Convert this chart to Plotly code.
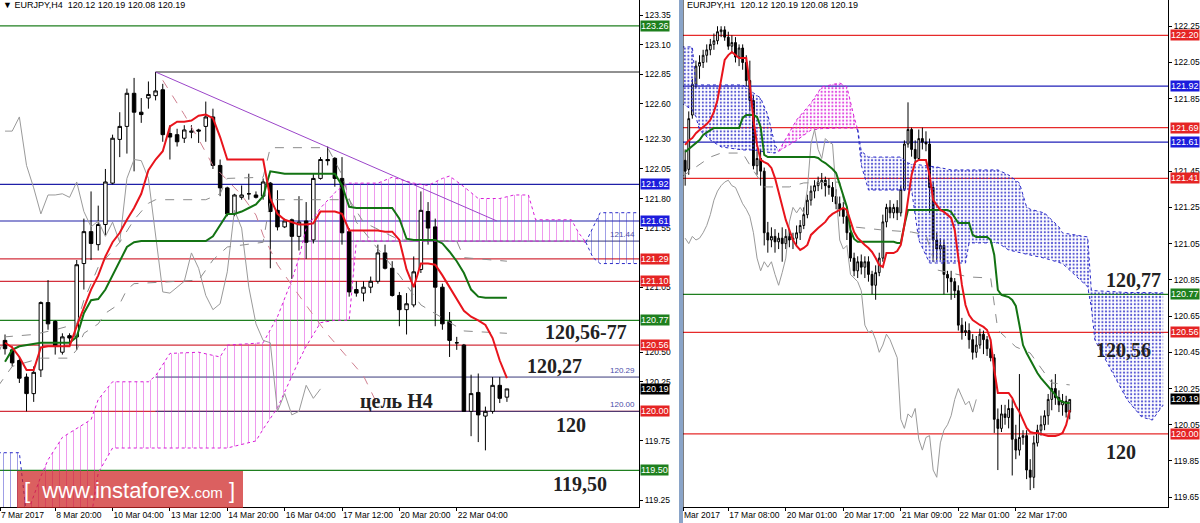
import plotly.graph_objects as go

W, H = 1200, 523
def px(x): return x / W
def py(y): return 1 - y / H

# ================= EURJPY H4 (left panel) =================
h4_bar = list(range(71))
h4_open = [120.60,120.52,120.43,120.29,120.15,120.35,120.92,120.76,120.50,120.64,
           120.63,121.25,121.52,121.41,121.58,121.93,122.30,122.41,122.69,122.53,
           122.65,122.67,122.72,122.35,122.34,122.31,122.36,122.38,122.41,122.49,
           122.08,121.89,121.67,121.81,121.84,121.83,121.82,121.93,121.70,121.56,
           121.62,121.48,121.61,121.45,121.97,122.13,122.14,121.97,121.52,121.03,
           121.00,121.05,121.10,121.34,121.21,120.98,120.86,120.90,121.20,121.69,
           121.56,121.05,120.76,120.58,120.56,120.00,120.16,119.96,120.00,120.22,120.12]
h4_high = [120.65,120.55,120.46,120.32,120.38,120.93,121.11,120.77,120.66,120.66,
           121.28,121.63,121.86,121.74,122.05,122.34,122.53,122.73,122.82,122.65,
           122.79,122.87,122.77,122.42,122.39,122.42,122.42,122.39,122.62,122.56,
           122.13,121.90,121.84,121.91,122.01,121.86,121.97,121.94,121.87,121.63,
           121.63,121.82,121.77,122.01,122.15,122.24,122.15,122.15,121.55,121.10,
           121.10,121.14,121.41,121.41,121.27,121.01,121.00,121.31,121.86,121.77,
           121.63,121.08,120.84,120.63,120.57,120.31,120.32,120.04,120.29,120.29,120.19]
h4_low = [120.48,120.38,120.24,120.00,120.08,120.29,120.69,120.48,120.48,120.56,
          120.52,121.03,121.28,121.36,121.49,121.92,122.15,122.18,122.03,122.44,
          122.56,122.63,122.28,122.13,122.24,122.27,122.31,122.27,122.28,122.05,
          121.82,121.65,121.65,121.79,121.79,121.80,121.79,121.21,121.53,121.55,
          121.12,121.36,121.29,121.42,121.96,122.08,121.90,121.41,120.97,120.97,
          120.93,121.00,121.08,121.20,120.97,120.72,120.65,120.88,121.17,121.41,
          120.72,120.69,120.46,120.52,120.00,119.79,119.74,119.67,119.98,120.07,120.08]
h4_close = [120.53,120.41,120.28,120.15,120.33,120.92,120.74,120.55,120.63,120.62,
            121.24,121.52,121.42,121.58,121.94,122.31,122.41,122.69,122.53,122.51,
            122.68,122.71,122.34,122.32,122.28,122.38,122.37,122.37,122.49,122.08,
            121.89,121.67,121.83,121.83,121.84,121.81,121.94,121.69,121.56,121.61,
            121.48,121.60,121.43,121.97,122.13,122.12,121.97,121.51,121.01,121.00,
            121.05,121.10,121.34,121.21,120.98,120.86,120.91,121.18,121.70,121.55,
            121.05,120.74,120.60,120.58,120.00,120.15,119.97,120.00,120.22,120.11,120.19]
h4_tenkan = [120.58,120.54,120.46,120.35,120.35,120.54,120.55,120.55,120.55,120.55,
             120.72,120.88,121.03,121.15,121.31,121.43,121.51,121.62,121.72,121.84,
             122.04,122.13,122.20,122.41,122.45,122.45,122.46,122.50,122.51,122.48,
             122.32,122.13,122.13,122.13,122.13,122.13,122.13,121.80,121.67,121.62,
             121.60,121.58,121.58,121.59,121.69,121.69,121.69,121.67,121.53,121.53,
             121.53,121.53,121.53,121.52,121.52,121.45,121.20,121.05,121.25,121.25,
             121.24,121.15,121.05,120.96,120.85,120.80,120.77,120.73,120.62,120.43,120.28]
h4_kijun = [120.42,120.52,120.55,120.56,120.57,120.58,120.58,120.58,120.58,120.58,
            120.63,120.83,120.94,120.95,121.03,121.15,121.28,121.39,121.43,121.44,
            121.44,121.44,121.44,121.44,121.44,121.44,121.44,121.44,121.44,121.48,
            121.58,121.67,121.67,121.69,121.72,121.75,121.82,122.03,122.02,122.01,
            122.01,122.01,122.01,122.01,122.01,122.01,122.01,121.91,121.73,121.72,
            121.72,121.72,121.72,121.72,121.72,121.63,121.46,121.45,121.45,121.45,
            121.45,121.42,121.35,121.27,121.17,121.03,120.97,120.96,120.96,120.96,120.96]

# cloud segments (bar, upper span, lower span)
h4_cloud_b1_bar = [-1, 2, 3]
h4_cloud_b1_top = [119.65, 119.65, 119.12]
h4_cloud_b1_bot = [119.00, 119.05, 119.12]
h4_cloud_m_bar = [3,5,6,8,12,13,15,20,21,23,27,30,31,35,36,38,40,41,42,44,
                  46,47,48,49,52,54,57,59,61,62,64,66,69,71,73,74,79,80,81]
h4_cloud_m_top = [119.12,119.45,119.59,119.78,119.93,120.10,120.25,120.25,120.30,120.49,
                  120.50,120.46,120.56,120.58,120.58,120.80,121.11,121.30,121.55,121.72,
                  121.85,121.90,121.93,121.93,121.93,121.98,121.93,121.91,121.97,121.99,
                  121.90,121.80,121.80,121.83,121.83,121.62,121.62,121.51,121.43]
h4_cloud_m_bot = [119.12,119.00,119.00,119.00,119.10,119.48,119.69,119.69,119.69,119.69,
                  119.69,119.69,119.69,119.75,119.85,120.03,120.30,120.43,120.55,120.75,
                  120.77,120.77,120.77,121.44,121.44,121.44,121.44,121.44,121.44,121.44,
                  121.44,121.44,121.44,121.44,121.44,121.44,121.44,121.44,121.43]
h4_cloud_b2_bar = [81, 82, 83, 89]
h4_cloud_b2_top = [121.43, 121.56, 121.68, 121.68]
h4_cloud_b2_bot = [121.43, 121.30, 121.25, 121.25]

h4_dash1_bar = [-1,1,5,9,10,11,13,14,16,17,18,27,29,31,36,37,48,50,55,63,64,70]
h4_dash1_val = [120.21,120.38,120.45,120.45,120.52,120.66,120.74,120.83,120.91,121.03,121.08,
                121.11,121.28,121.39,121.43,121.79,121.79,121.60,121.45,121.44,121.30,121.27]
h4_dash2_bar = [-1,0,4,7,10,11,13,16,18,20,21,28,30,31,36,37,45,47,49,55,58,62,64,70]
h4_dash2_val = [120.48,120.63,120.65,120.69,120.74,120.94,121.22,121.43,121.62,121.76,121.79,
                121.79,121.84,121.97,121.98,122.23,122.23,122.00,121.60,121.15,120.90,120.75,
                120.68,120.66]
h4_pink_bar = [22,25,27,29,33,35,36,38,41,45,50,52]
h4_pink_val = [122.80,122.51,122.30,122.08,121.83,121.66,121.49,121.24,120.98,120.65,120.30,120.05]

h4_trend_bar = [21, 68.6]
h4_trend_val = [122.87, 121.61]

h4_levels = [(123.26, "green"), (121.92, "blue"), (121.61, "blue"), (121.29, "red"),
             (121.10, "red"), (120.77, "green"), (120.56, "red"), (120.00, "red"),
             (119.50, "green")]
h4_marks = [(122.87, "", "#222222"), (121.44, "121.44", "#3a3a7a"),
            (120.29, "120.29", "#3a3a7a"), (120.00, "120.00", "#3a3a7a")]
h4_mark_start = [21, 28, 21, 21]
h4_ticks = [123.35,123.10,122.85,122.60,122.30,122.05,121.80,121.55,121.05,
            120.50,120.25,119.75,119.25]
h4_xtick_bar = [-0.7, 7, 15, 23, 31, 39, 47, 55, 63]
h4_xtick_txt = ["7 Mar 2017", "8 Mar 20:00", "10 Mar 04:00", "13 Mar 12:00", "14 Mar 20:00",
                "16 Mar 04:00", "17 Mar 12:00", "20 Mar 20:00", "22 Mar 04:00"]

# ================= EURJPY H1 (right panel) =================
h1_bar = list(range(-12, 96))
h1_open = [121.51,121.46,121.76,121.93,122.03,122.05,122.09,122.12,122.15,122.17,122.22,122.23,
           122.19,122.14,122.16,122.08,122.13,122.05,121.95,121.84,121.48,121.52,121.45,121.11,
           121.07,121.09,121.06,121.08,121.05,121.09,121.07,121.08,121.11,121.15,121.21,121.29,
           121.34,121.37,121.39,121.40,121.37,121.36,121.31,121.27,121.24,121.20,121.11,120.97,
           120.90,120.95,120.92,120.95,120.88,120.82,120.89,120.97,121.17,121.25,121.22,121.25,
           121.22,121.35,121.60,121.68,121.57,121.52,121.63,121.61,121.60,121.36,121.07,121.02,
           121.04,120.88,120.86,120.84,120.79,120.60,120.56,120.57,120.52,120.45,120.49,120.55,
           120.52,120.47,120.42,120.08,120.03,120.11,120.09,120.14,119.97,119.91,119.98,119.99,
           119.80,119.76,119.95,120.02,120.05,120.10,120.19,120.25,120.20,120.16,120.18,120.12]
h1_high = [121.57,121.78,121.96,122.06,122.09,122.12,122.15,122.18,122.21,122.25,122.25,122.25,
           122.22,122.20,122.19,122.15,122.15,122.09,122.06,121.87,121.56,121.57,121.47,121.17,
           121.14,121.13,121.11,121.14,121.13,121.13,121.11,121.15,121.18,121.25,121.32,121.37,
           121.40,121.42,121.44,121.42,121.41,121.39,121.35,121.31,121.28,121.24,121.15,121.00,
           120.98,120.99,120.98,120.98,120.90,120.93,121.00,121.21,121.27,121.29,121.27,121.29,
           121.37,121.62,121.83,121.69,121.62,121.68,121.69,121.67,121.63,121.39,121.11,121.08,
           121.07,120.90,120.90,120.86,120.82,120.64,120.62,120.61,120.55,120.54,120.58,120.57,
           120.54,120.50,120.44,120.14,120.16,120.16,120.19,120.19,120.05,120.33,120.02,120.02,
           119.86,119.99,120.05,120.10,120.13,120.22,120.30,120.33,120.24,120.22,120.21,120.19]
h1_low = [121.37,121.43,121.74,121.91,121.96,122.02,122.05,122.09,122.12,122.15,122.19,122.17,
          122.12,122.10,122.05,122.03,122.01,121.92,121.78,121.46,121.43,121.37,121.04,121.00,
          121.03,121.00,121.02,120.95,121.02,121.03,121.02,121.04,121.07,121.13,121.19,121.26,
          121.30,121.34,121.35,121.31,121.32,121.28,121.24,121.20,121.16,121.07,120.95,120.87,
          120.86,120.88,120.86,120.84,120.77,120.74,120.87,120.95,121.14,121.19,121.19,121.18,
          121.20,121.34,121.58,121.53,121.50,121.51,121.57,121.56,121.22,120.95,120.96,120.96,
          120.77,120.78,120.74,120.75,120.57,120.52,120.54,120.47,120.41,120.42,120.47,120.44,
          120.43,120.40,120.005,119.80,120.01,120.05,120.03,119.77,119.86,119.88,119.94,119.75,
          119.69,119.70,119.93,119.99,120.02,120.05,120.13,120.16,120.12,120.10,120.09,120.08]
h1_close = [121.45,121.74,121.93,122.03,122.05,122.09,122.12,122.15,122.17,122.22,122.23,122.19,
            122.14,122.16,122.08,122.13,122.05,121.95,121.84,121.48,121.52,121.45,121.11,121.07,
            121.09,121.06,121.08,121.05,121.09,121.07,121.08,121.11,121.15,121.21,121.29,121.34,
            121.37,121.39,121.40,121.37,121.36,121.31,121.27,121.24,121.20,121.11,120.97,120.90,
            120.95,120.92,120.95,120.88,120.82,120.89,120.97,121.17,121.25,121.22,121.25,121.22,
            121.35,121.60,121.68,121.57,121.52,121.63,121.61,121.60,121.36,121.07,121.02,121.04,
            120.88,120.86,120.84,120.79,120.60,120.56,120.57,120.52,120.45,120.49,120.55,120.52,
            120.47,120.42,120.08,120.03,120.11,120.09,120.14,119.97,119.91,119.98,119.99,119.80,
            119.76,119.95,120.02,120.05,120.10,120.19,120.25,120.20,120.16,120.18,120.12,120.19]
h1_tenkan = [121.595,121.62,121.633,121.66,121.677,121.694,121.71,121.733,121.777,121.843,121.953,122.064,
             122.091,122.108,122.091,122.075,122.075,122.075,121.926,121.733,121.595,121.512,121.50,121.49,
             121.468,121.412,121.335,121.263,121.181,121.125,121.07,121.037,121.015,121.026,121.043,121.098,
             121.12,121.136,121.153,121.17,121.197,121.214,121.225,121.236,121.247,121.236,121.17,121.114,
             121.081,121.059,121.043,121.026,121.004,120.971,120.932,120.921,120.998,120.998,120.998,121.009,
             121.043,121.153,121.291,121.429,121.50,121.512,121.512,121.512,121.429,121.291,121.263,121.236,
             121.225,121.208,121.192,121.125,120.96,120.822,120.711,120.656,120.628,120.612,120.601,120.59,
             120.573,120.518,120.353,120.226,120.226,120.226,120.226,120.198,120.154,120.121,120.076,120.032,
             120.01,120.005,120.005,119.999,119.994,119.988,119.988,119.988,119.994,120.005,120.049,120.132]
h1_kijun = [121.556,121.573,121.589,121.606,121.622,121.65,121.666,121.677,
            121.688,121.688,121.688,121.688,121.688,121.688,121.688,121.688,
            121.744,121.76,121.76,121.76,121.749,121.694,121.54,
            121.528,121.528,121.528,121.528,121.528,121.528,121.528,121.528,121.528,121.528,121.528,
            121.528,121.528,121.528,
            121.523,121.506,121.495,121.479,121.462,121.44,121.374,121.308,121.252,121.125,121.076,
            121.06,121.06,121.06,121.06,121.06,121.06,121.06,121.06,121.06,121.06,121.06,
            121.054,121.054,121.153,121.236,
            121.236,121.236,121.236,121.236,121.236,121.236,121.236,121.236,121.236,121.236,121.236,
            121.225,121.192,121.164,121.164,121.164,121.164,121.098,
            121.087,121.087,121.087,121.087,
            121.07,120.987,120.794,120.767,120.761,120.755,120.739,120.706,120.601,120.49,120.446,
            120.408,120.369,120.336,120.308,120.286,120.259,120.237,120.215,120.187,120.176,120.17,120.17]

h1_cloud_b1_bar = [-13,-10,-9,-8,-5,-2,4,7,9,11,13,14]
h1_cloud_b1_top = [122.136,122.136,121.926,121.926,121.926,121.926,121.926,121.882,121.854,121.76,121.595,121.56]
h1_cloud_b1_bot = [121.826,121.788,121.75,121.677,121.622,121.584,121.567,121.567,121.56,121.555,121.55,121.56]
h1_cloud_m_bar = [14,19,23,26,31,33,35,36]
h1_cloud_m_top = [121.56,121.733,121.826,121.915,121.937,121.915,121.749,121.68]
h1_cloud_m_bot = [121.56,121.62,121.677,121.685,121.688,121.688,121.688,121.68]
h1_cloud_b2_bar = [36,37,39,48,50,51,53,56,58,62,66,67,75,78,81,83,84,88,92,93,
                   100,101,102,107,111,115,118,120,121]
h1_cloud_b2_top = [121.68,121.56,121.528,121.528,121.495,121.49,121.485,121.478,121.473,121.457,
                   121.457,121.457,121.457,121.429,121.385,121.252,121.24,121.219,121.142,121.109,
                   121.087,120.794,120.79,120.785,120.78,120.78,120.778,120.778,120.778]
h1_cloud_b2_bot = [121.68,121.484,121.346,121.346,121.346,121.346,121.07,120.943,120.943,120.943,
                   120.943,121.054,121.054,121.015,121.0,120.99,120.987,120.97,120.949,120.94,
                   120.811,120.70,120.518,120.336,120.187,120.093,120.076,120.132,120.159]
h1_dash_bar = [-13,-9,-5,-2,4,6,10,17,21,31,33,35,43,51,55,58,67,73,75,80,84,90,95]
h1_dash_val = [121.418,121.473,121.528,121.55,121.55,121.484,121.363,121.363,121.385,121.39,121.208,
               121.142,121.125,121.114,121.098,120.905,120.866,120.86,120.573,120.48,120.446,120.281,120.27]

h1_levels = [(122.20, "red"), (121.92, "blue"), (121.69, "red"), (121.61, "blue"),
             (121.41, "red"), (120.77, "green"), (120.56, "red"), (120.00, "red")]
h1_ticks = [122.25,122.05,121.85,121.45,121.25,121.05,120.85,120.65,120.45,
            120.25,120.05,119.85,119.65]
h1_xtick_bar = [-12.6, 0, 16, 32, 48, 64, 80]
h1_xtick_txt = ["Mar 2017", "17 Mar 08:00", "20 Mar 01:00", "20 Mar 17:00", "21 Mar 09:00",
                "22 Mar 01:00", "22 Mar 17:00"]

last_price = 120.19

# ================= styles =================
LINE_COL = {"red": "#d3303c", "green": "#1f7f1f", "blue": "#2020a8"}
LINE_COL_R = {"red": "#e62a2a", "green": "#1f7f1f", "blue": "#2020b8"}
LBL_BG = {"red": "#e52424", "green": "#1e801e", "blue": "#1c1cdc"}
MAG = "#d81ed8"
BLU = "#2a2ac8"
FONT = "Liberation Sans"

fig = go.Figure()

def cloud(bars, top, bot, xa, ya, color, shape, size, sol, op):
    fig.add_trace(go.Scatter(
        x=bars + bars[::-1], y=top + bot[::-1], xaxis=xa, yaxis=ya,
        mode="lines", line=dict(width=0), fill="toself",
        fillcolor="rgba(0,0,0,0)",
        fillpattern=dict(shape=shape, fgcolor=color, fgopacity=op, size=size, solidity=sol)))
    for arr in (top, bot):
        fig.add_trace(go.Scatter(x=bars, y=arr, xaxis=xa, yaxis=ya, mode="lines",
                                 line=dict(color=color, width=1, dash="dot")))

# ---- left clouds
cloud(h4_cloud_b1_bar, h4_cloud_b1_top, h4_cloud_b1_bot, "x", "y", BLU, "|", 7, 0.15, 0.45)
cloud(h4_cloud_m_bar, h4_cloud_m_top, h4_cloud_m_bot, "x", "y", MAG, "|", 7, 0.15, 0.45)
cloud(h4_cloud_b2_bar, h4_cloud_b2_top, h4_cloud_b2_bot, "x", "y", BLU, "|", 7, 0.15, 0.45)
# ---- right clouds
cloud(h1_cloud_b1_bar, h1_cloud_b1_top, h1_cloud_b1_bot, "x2", "y2", BLU, ".", 3.6, 0.28, 0.8)
cloud(h1_cloud_m_bar, h1_cloud_m_top, h1_cloud_m_bot, "x2", "y2", MAG, ".", 3.6, 0.28, 0.8)
cloud(h1_cloud_b2_bar, h1_cloud_b2_top, h1_cloud_b2_bot, "x2", "y2", BLU, ".", 3.6, 0.28, 0.8)

def line(x, y, xa, ya, color, width=1, dash="solid"):
    fig.add_trace(go.Scatter(x=x, y=y, xaxis=xa, yaxis=ya, mode="lines",
                             line=dict(color=color, width=width, dash=dash)))

# dashed helper lines
line(h4_dash1_bar, h4_dash1_val, "x", "y", "#8c8c8c", 1, "dash")
line(h4_dash2_bar, h4_dash2_val, "x", "y", "#8c8c8c", 1, "dash")
line(h4_pink_bar, h4_pink_val, "x", "y", "#d08090", 1, "dash")
line(h1_dash_bar, h1_dash_val, "x2", "y2", "#8c8c8c", 1, "dash")

# chikou spans (close shifted 26 bars back)
line([b - 26 for b in h4_bar[26:]], h4_close[26:], "x", "y", "#9a9a9a", 1)
line([b - 26 for b in h1_bar[26:]], h1_close[26:], "x2", "y2", "#9a9a9a", 1)

# trend line
line(h4_trend_bar, h4_trend_val, "x", "y", "#9b45c9", 1)

# tenkan / kijun
line(h4_bar, h4_kijun, "x", "y", "#137313", 2)
line(h4_bar, h4_tenkan, "x", "y", "#e8141c", 2)
line(h1_bar, h1_kijun, "x2", "y2", "#137313", 2)
line(h1_bar, h1_tenkan, "x2", "y2", "#e8141c", 2)

# candles
for xa, ya, b, o, h, l, c in (("x", "y", h4_bar, h4_open, h4_high, h4_low, h4_close),
                              ("x2", "y2", h1_bar, h1_open, h1_high, h1_low, h1_close)):
    fig.add_trace(go.Candlestick(
        x=b, open=o, high=h, low=l, close=c, xaxis=xa, yaxis=ya,
        increasing=dict(line=dict(color="black", width=1), fillcolor="white"),
        decreasing=dict(line=dict(color="black", width=1), fillcolor="black"),
        whiskerwidth=0, hoverinfo="skip"))

shapes = []
annotations = []

def lvl_label(text, price, bg, xpx, yref):
    annotations.append(dict(x=px(xpx), xref="paper", xanchor="left", y=price, yref=yref,
                            yanchor="middle", text=text, showarrow=False, bgcolor=bg,
                            borderpad=0, font=dict(color="white", size=9, family=FONT)))

# left levels
for val, kind in h4_levels:
    shapes.append(dict(type="line", xref="x domain", x0=0, x1=1, yref="y", y0=val, y1=val,
                       line=dict(color=LINE_COL[kind], width=1.2), layer="below"))
    lvl_label(f"{val:.2f}", val, LBL_BG[kind], 640, "y")
for (val, txt, col), start in zip(h4_marks, h4_mark_start):
    shapes.append(dict(type="line", xref="x", x0=start, x1=88.42, yref="y", y0=val, y1=val,
                       line=dict(color=col, width=1), layer="below"))
    if txt:
        annotations.append(dict(x=px(637), xref="paper", xanchor="right", y=val, yref="y",
                                yanchor="bottom", text=txt, showarrow=False,
                                font=dict(color="#4a4aa8", size=8, family=FONT)))
lvl_label(f"{last_price:.2f}", last_price, "#000000", 640, "y")

# right levels
for val, kind in h1_levels:
    shapes.append(dict(type="line", xref="x2 domain", x0=0, x1=1, yref="y2", y0=val, y1=val,
                       line=dict(color=LINE_COL_R[kind], width=1.3), layer="below"))
    lvl_label(f"{val:.2f}", val, LBL_BG[kind], 1170, "y2")
lvl_label(f"{last_price:.2f}", last_price, "#000000", 1170, "y2")

# panel borders / separator
shapes.append(dict(type="line", xref="x2 domain", x0=0, x1=0, yref="y2 domain", y0=0, y1=1,
                   line=dict(color="black", width=1)))
shapes.append(dict(type="rect", xref="paper", yref="paper", x0=px(679), x1=px(683), y0=0, y1=1,
                   fillcolor="#8aa4c8", line=dict(width=0)))

# watermark
shapes.append(dict(type="rect", xref="paper", yref="paper", x0=px(17), x1=px(243),
                   y0=py(508), y1=py(471), fillcolor="rgba(205,35,35,0.72)",
                   line=dict(width=0), layer="above"))
annotations.append(dict(x=px(129), y=py(490), xref="paper", yref="paper", showarrow=False,
                        xanchor="center", yanchor="middle",
                        text="[\u00a0\u00a0www.instaforex<span style='font-size:15px'>.com</span>\u00a0]",
                        font=dict(color="white", size=22, family=FONT)))

# headers
annotations.append(dict(x=px(1), y=py(5), xref="paper", yref="paper", xanchor="left",
                        yanchor="middle", showarrow=False,
                        text="\u25BC EURJPY,H4  120.12 120.19 120.08 120.19",
                        font=dict(color="black", size=9, family=FONT)))
annotations.append(dict(x=px(685), y=py(5), xref="paper", yref="paper", xanchor="left",
                        yanchor="middle", showarrow=False,
                        text="EURJPY,H1  120.12 120.19 120.08 120.19",
                        font=dict(color="black", size=9, family=FONT)))

# analyst notes
notes = [("120,56-77", 586, 332), ("120,27", 554, 366), ("цель Н4", 396, 401),
         ("120", 571, 425), ("119,50", 580, 484),
         ("120,77", 1133, 280), ("120,56", 1123, 350), ("120", 1121, 452)]
for txt, x, y in notes:
    annotations.append(dict(x=px(x), y=py(y), xref="paper", yref="paper", showarrow=False,
                            xanchor="center", yanchor="middle", text=f"<b>{txt}</b>",
                            font=dict(color="#222222", size=20, family="Liberation Serif")))

axis_common = dict(showgrid=False, zeroline=False, showline=True, linecolor="black",
                   linewidth=1, ticks="outside", ticklen=3, tickcolor="black",
                   automargin=False, tickangle=0,
                   tickfont=dict(size=8.5, family=FONT, color="black"))

fig.update_layout(
    width=W, height=H, margin=dict(l=0, r=0, t=0, b=0, pad=0),
    paper_bgcolor="white", plot_bgcolor="white", showlegend=False, hovermode=False,
    xaxis=dict(domain=[0, px(639)], range=[-0.7, 88.42], tickvals=h4_xtick_bar,
               ticktext=h4_xtick_txt, ticklabelposition="outside right",
               rangeslider=dict(visible=False), anchor="y", **axis_common),
    yaxis=dict(domain=[16 / H, 1], range=[119.191, 123.479], side="right", anchor="x",
               tickvals=h4_ticks, tickformat=".2f", **axis_common),
    xaxis2=dict(domain=[px(683), px(1168)], range=[-12.6, 122.34], tickvals=h1_xtick_bar,
                ticktext=h1_xtick_txt, ticklabelposition="outside right",
                rangeslider=dict(visible=False), anchor="y2", **axis_common),
    yaxis2=dict(domain=[16 / H, 1], range=[119.596, 122.395], side="right", anchor="x2",
                tickvals=h1_ticks, tickformat=".2f", **axis_common),
    shapes=shapes, annotations=annotations,
)

fig.write_html("out.html", config={"displayModeBar": False},
               post_script="document.body.style.margin='0';document.body.style.overflow='hidden';")
